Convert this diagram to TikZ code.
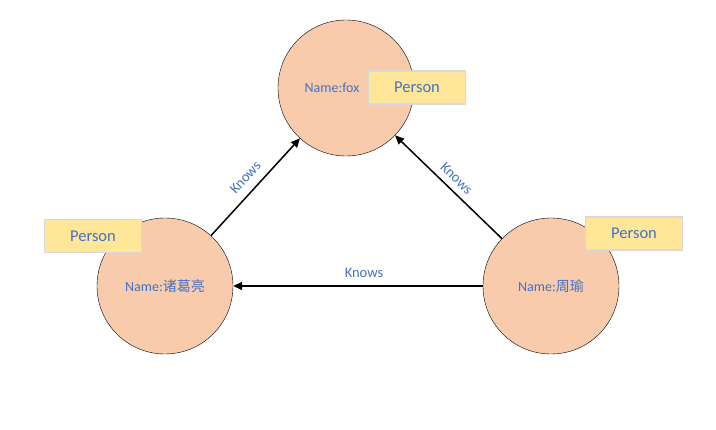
\documentclass[tikz,border=0pt]{standalone}
\usepackage{fontspec}
\setmainfont{Carlito}
\newfontfamily\cjkfont{Noto Sans CJK SC}
\usetikzlibrary{arrows.meta}

\definecolor{nodefill}{HTML}{F8CBAD}
\definecolor{labelfill}{HTML}{FFE699}
\definecolor{labeldraw}{HTML}{D9D9D9}
\definecolor{textblue}{HTML}{4472C4}

\begin{document}
\begin{tikzpicture}[
	x=1pt, y=-1pt,
	person/.style={
		circle,
		draw,
		fill=nodefill,
		minimum size=136pt,
		inner sep=0pt,
		text=textblue,
		font=\fontsize{14}{16}\selectfont
	},
	tag/.style={
		draw=labeldraw,
		line width=1.2pt,
		fill=labelfill,
		minimum width=97pt,
		minimum height=33pt,
		inner sep=0pt,
		text=textblue,
		font=\fontsize{16.5}{18}\selectfont
	},
	arrow/.style={-{Triangle[length=9pt, width=8pt]}, line width=1.5pt},
	rel/.style={text=textblue, font=\fontsize{14.5}{16}\selectfont}
	]
	
	\useasboundingbox (0,0) rectangle (716,430);
	
	% ======================
	% Nodes
	% ======================
	\node (fox) [person] at (346,88) {\hspace*{-28pt}Name:fox};
	\node (zhuge) [person] at (165,286) {Name:{\cjkfont 诸葛亮}};
	\node (zhouyu) [person] at (551,286) {Name:{\cjkfont 周瑜}};
	
	% ======================
	% Labels
	% ======================
	\node (foxtag) [tag] at (417,87.5) {Person};
	\node (zhugetag) [tag] at (93,236) {Person};
	\node (zhouyutag) [tag] at (634,233.5) {Person};
	
	% ======================
	% Relations
	% ======================
	\draw[arrow] (zhuge) -- node[rel, midway, above=5pt, sloped] {Knows} (fox);
	\draw[arrow] (zhouyu) -- node[rel, midway, above=3pt, sloped] {Knows} (fox);
	\draw[arrow] (zhouyu) -- node[rel, midway, above=4pt, xshift=6pt] {Knows} (zhuge);
	
\end{tikzpicture}
\end{document}
